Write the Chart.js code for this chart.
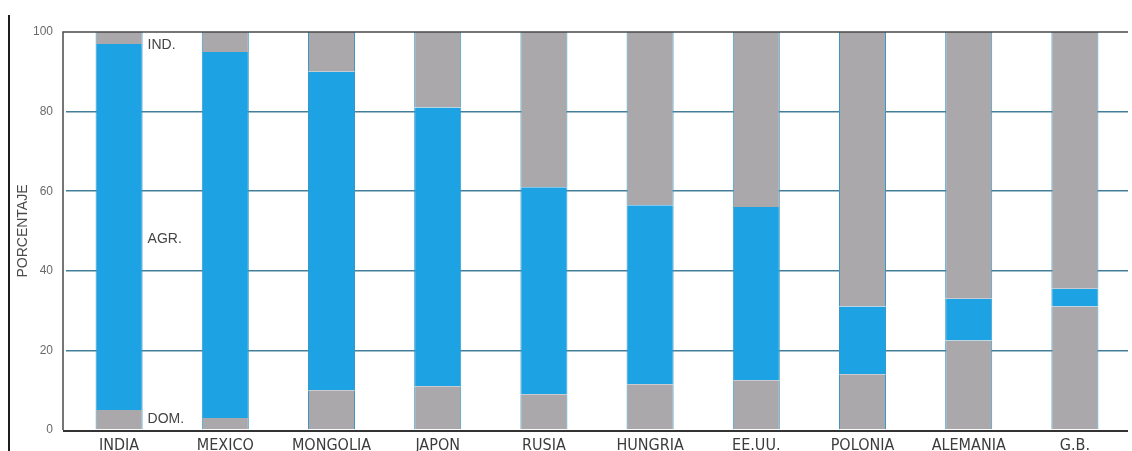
<!DOCTYPE html>
<html>
<head>
<meta charset="utf-8">
<script src="https://cdn.jsdelivr.net/npm/chart.js@4/dist/chart.umd.min.js"></script>
<style>
  html, body { margin: 0; padding: 0; background: #ffffff; }
  #wrap { width: 1132px; height: 451px; }
</style>
</head>
<body>
<div id="wrap"><canvas id="c" width="1132" height="451"></canvas></div>
<script>
// Población activa por sector (%), por país
const categories = ['INDIA', 'MEXICO', 'MONGOLIA', 'JAPON', 'RUSIA', 'HUNGRIA', 'EE.UU.', 'POLONIA', 'ALEMANIA', 'G.B.'];
const domValues = [5, 3, 10, 11, 9, 11.5, 12.5, 14, 22.5, 31];
const agrValues = [92, 92, 80, 70, 52, 45, 43.5, 17, 10.5, 4.5];
const indValues = [3, 5, 10, 19, 39, 43.5, 44, 69, 67, 64.5];
const yTicks = [0, 20, 40, 60, 80, 100];
const sectorLabels = ['DOM.', 'AGR.', 'IND.'];

const BLUE = '#1da2e3';
const GREY = '#aba8ab';
const EDGE = '#3b97c4';
const GRID = '#437f98';
const NARROW = "'Liberation Sans Narrow', 'DejaVu Sans Condensed', 'Liberation Sans', Arial, sans-serif";
const SANS = "'Liberation Sans', Arial, sans-serif";

// Frame lines, page margin rule and the sector captions beside the first bar
const framePlugin = {
  id: 'frame',
  afterDatasetsDraw(chart) {
    const { ctx, chartArea: a, scales: { y } } = chart;
    ctx.save();
    // left margin rule of the page
    ctx.strokeStyle = '#1e1e1e';
    ctx.lineWidth = 2;
    ctx.beginPath(); ctx.moveTo(9, 15); ctx.lineTo(9, 451); ctx.stroke();
    // plot frame: top and left
    ctx.strokeStyle = '#4a4a4a';
    ctx.lineWidth = 1.5;
    ctx.beginPath();
    ctx.moveTo(a.left - 3, a.bottom);
    ctx.lineTo(a.left - 3, a.top);
    ctx.lineTo(a.right, a.top);
    ctx.stroke();
    // bottom axis
    ctx.strokeStyle = '#333';
    ctx.lineWidth = 2;
    ctx.beginPath(); ctx.moveTo(a.left - 3, a.bottom + 1); ctx.lineTo(a.right, a.bottom + 1); ctx.stroke();
    // sector captions to the right of the first bar
    const bar = chart.getDatasetMeta(0).data[0];
    const lx = bar.x + bar.width / 2 + 5;
    const anchors = [2.8, 48, 96.8];
    ctx.fillStyle = '#444';
    ctx.font = '14px ' + SANS;
    ctx.textBaseline = 'middle';
    ctx.textAlign = 'left';
    sectorLabels.forEach((t, i) => ctx.fillText(t, lx, y.getPixelForValue(anchors[i])));
    ctx.restore();
  }
};

const seg = (label, data, color) => ({
  label,
  data,
  backgroundColor: color,
  borderColor: EDGE,
  borderWidth: { left: 1, right: 1, top: 0, bottom: 0 },
  borderSkipped: false,
  barPercentage: 0.443,
  categoryPercentage: 1
});

new Chart(document.getElementById('c'), {
  type: 'bar',
  data: {
    labels: categories,
    datasets: [
      seg('DOM.', domValues, GREY),
      seg('AGR.', agrValues, BLUE),
      seg('IND.', indValues, GREY)
    ]
  },
  options: {
    responsive: false,
    animation: false,
    devicePixelRatio: 1,
    layout: { padding: { top: 32, right: 4, left: 0, bottom: 0 } },
    plugins: { legend: { display: false }, tooltip: { enabled: false } },
    scales: {
      x: {
        stacked: true,
        grid: { display: false, drawTicks: false },
        border: { display: false },
        ticks: {
          color: '#3c3c3c',
          font: { family: NARROW, size: 16 },
          padding: 6,
          maxRotation: 0,
          autoSkip: false
        },
        afterFit(s) { s.height = 21; }
      },
      y: {
        stacked: true,
        min: 0,
        max: 100,
        afterBuildTicks(s) { s.ticks = yTicks.map(v => ({ value: v })); },
        grid: {
          drawTicks: false,
          lineWidth: 1.5,
          color: ctx => (ctx.tick && (ctx.tick.value === 0 || ctx.tick.value === 100)) ? 'rgba(0,0,0,0)' : GRID
        },
        border: { display: false },
        ticks: {
          color: '#6a6a6a',
          font: { family: SANS, size: 12 },
          padding: 13
        },
        title: {
          display: true,
          text: 'PORCENTAJE',
          color: '#4a4a4a',
          font: { family: SANS, size: 14 },
          padding: { top: 15, bottom: 0 }
        },
        afterFit(s) { s.width = 66; }
      }
    }
  },
  plugins: [framePlugin]
});
</script>
</body>
</html>
